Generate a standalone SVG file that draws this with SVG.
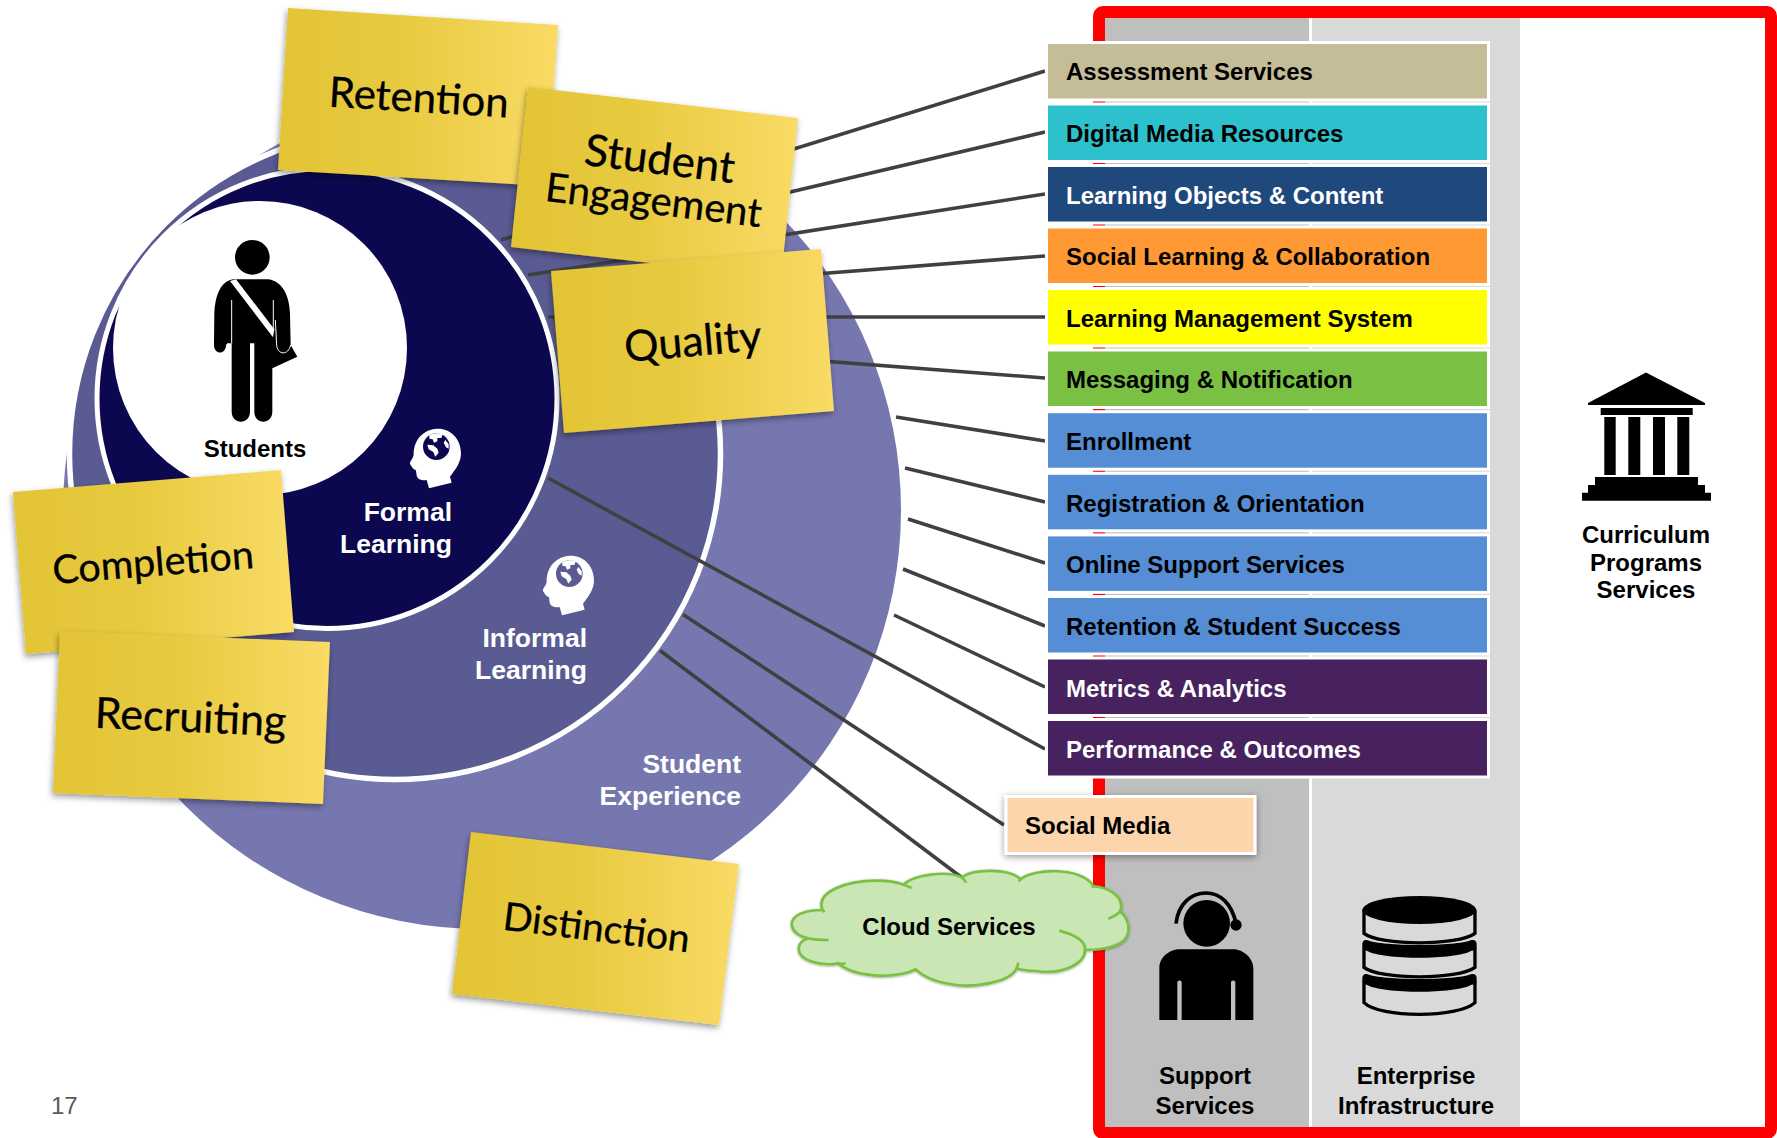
<svg xmlns="http://www.w3.org/2000/svg" width="1777" height="1138" viewBox="0 0 1777 1138">
<style>
text{font-family:"Liberation Sans",Arial,sans-serif;font-weight:bold;font-size:24px;fill:#000}
.w{fill:#fff}
.big{font-size:26.5px;fill:#fff;text-anchor:end}
.mid{text-anchor:middle}
.note{fill:url(#noteGrad);filter:url(#shadow)}
.nt{font-family:"Lato",sans-serif;font-weight:400;font-size:42px;text-anchor:middle;stroke:#000;stroke-width:.3}
.bar{stroke:#fff;stroke-width:6;paint-order:stroke}
.conn line{stroke:#404040;stroke-width:3.6}
</style>
<defs>
<linearGradient id="noteGrad" x1="0" y1="0" x2="1" y2="0">
<stop offset="0" stop-color="#e3c435"/><stop offset=".45" stop-color="#e8ca40"/><stop offset="1" stop-color="#f9db66"/>
</linearGradient>
<filter id="shadow" x="-10%" y="-10%" width="125%" height="125%">
<feDropShadow dx="-1" dy="3" stdDeviation="3" flood-color="#000" flood-opacity=".4"/>
</filter>
<filter id="shadow2" x="-10%" y="-15%" width="120%" height="135%">
<feDropShadow dx="0" dy="2" stdDeviation="3.5" flood-color="#000" flood-opacity=".4"/>
</filter>
<g id="thinker">
<path fill="#fff" d="M110,26 C150,24 183,55 183,100 C183,125 170,145 150,170 L155,188 L87,205 L80,180 C70,182 58,182 52,172 C48,165 50,155 47,150 C40,148 36,142 30,132 C28,125 38,118 41,105 C40,60 70,28 110,26 Z"/>
<circle cx="109" cy="80" r="40" fill="currentColor"/>
<path fill="#fff" d="M88,46 C98,38 120,38 128,44 L124,54 L112,54 L112,64 L102,68 L98,58 L88,56 Z M82,74 L100,76 L112,86 L116,98 L106,110 L100,96 L86,88 Z M136,60 L146,72 L146,86 L138,82 L131,68 Z"/>
</g>
</defs>
<rect width="1777" height="1138" fill="#fff"/>

<g id="panel">
<rect id="col-support" x="1105" y="17" width="204" height="1116" fill="#bfbfbf"/>
<rect id="col-enterprise" x="1312" y="17" width="208" height="1116" fill="#d9d9d9"/>
<rect id="frame" x="1099" y="12" width="672" height="1121" rx="4" fill="none" stroke="#f00" stroke-width="12"/>
</g>

<g id="rings">
<circle id="ring-experience" cx="482" cy="510" r="419" fill="#7777b0"/>
<circle id="ring-informal" cx="395" cy="454" r="325.5" fill="#5b5b94" stroke="#fff" stroke-width="5.5"/>
<circle id="ring-formal" cx="327" cy="398.5" r="230" fill="#0b084f" stroke="#fff" stroke-width="5"/>
<circle id="ring-students" cx="260" cy="348" r="147" fill="#fff"/>
</g>

<g id="connectors" class="conn">
<line x1="501" y1="240" x2="1045" y2="71"/>
<line x1="620" y1="232" x2="1045" y2="132"/>
<line x1="528" y1="275" x2="1045" y2="194"/>
<line x1="600" y1="291" x2="1045" y2="256"/>
<line x1="548" y1="317" x2="1045" y2="317"/>
<line x1="600" y1="344" x2="1045" y2="378"/>
<line x1="896" y1="417" x2="1045" y2="441"/>
<line x1="905" y1="468" x2="1045" y2="502"/>
<line x1="908" y1="519" x2="1045" y2="563"/>
<line x1="903" y1="569" x2="1045" y2="626"/>
<line x1="894" y1="615" x2="1045" y2="687"/>
<line x1="548" y1="478" x2="1045" y2="749"/>
<line x1="683" y1="614.5" x2="1004" y2="825"/>
<line x1="660" y1="650.5" x2="961" y2="877"/>
</g>

<g id="students">
<g transform="translate(200,230) scale(.3333)">
<circle cx="157" cy="82" r="52"/>
<path d="M90,150 C60,160 45,200 43,250 L42,345 C42,375 78,375 78,345 L82,340 H95 V545 C95,585 150,585 150,545 V340 H163 V545 C163,585 217,585 217,545 V415 L292,380 L272,345 L270,250 C268,200 250,155 205,148 H100 Z"/>
<path fill="#fff" d="M90,153 L108,148 L223,298 L219,322 Z"/>
<path fill="none" stroke="#fff" stroke-width="3" d="M95,210 V340 M220,210 V300 M226,270 L230,345 C232,375 265,378 272,345"/>
</g>
<text class="mid" x="255" y="457">Students</text>
</g>

<g id="formal" color="#0b084f">
<use href="#thinker" transform="translate(400,420) scale(.3333)"/>
<text class="big" x="452" y="521">Formal</text>
<text class="big" x="452" y="553">Learning</text>
</g>

<g id="informal" color="#5b5b94">
<use href="#thinker" transform="translate(533,547) scale(.3333)"/>
<text class="big" x="587" y="647">Informal</text>
<text class="big" x="587" y="679">Learning</text>
</g>

<g id="experience">
<text class="big" x="741" y="773">Student</text>
<text class="big" x="741" y="805">Experience</text>
</g>

<g id="bar-assessment"><rect class="bar" x="1048" y="44" width="439" height="54.5" fill="#c4bd97"/><text x="1066" y="80">Assessment Services</text></g>
<g id="bar-digital"><rect class="bar" x="1048" y="105.5" width="439" height="54.5" fill="#2dc0cd"/><text x="1066" y="142">Digital Media Resources</text></g>
<g id="bar-objects"><rect class="bar" x="1048" y="167" width="439" height="54.5" fill="#1f497d"/><text class="w" x="1066" y="204">Learning Objects &amp; Content</text></g>
<g id="bar-social"><rect class="bar" x="1048" y="228.5" width="439" height="54.5" fill="#ff9933"/><text x="1066" y="265">Social Learning &amp; Collaboration</text></g>
<g id="bar-lms"><rect class="bar" x="1048" y="290" width="439" height="54.5" fill="#ffff00"/><text x="1066" y="327">Learning Management System</text></g>
<g id="bar-messaging"><rect class="bar" x="1048" y="351.5" width="439" height="54.5" fill="#7ac143"/><text x="1066" y="388">Messaging &amp; Notification</text></g>
<g id="bar-enrollment"><rect class="bar" x="1048" y="413.2" width="439" height="54.5" fill="#558ed5"/><text x="1066" y="450">Enrollment</text></g>
<g id="bar-registration"><rect class="bar" x="1048" y="474.8" width="439" height="54.5" fill="#558ed5"/><text x="1066" y="512">Registration &amp; Orientation</text></g>
<g id="bar-support"><rect class="bar" x="1048" y="536.4" width="439" height="54.5" fill="#558ed5"/><text x="1066" y="573">Online Support Services</text></g>
<g id="bar-retention"><rect class="bar" x="1048" y="598" width="439" height="54.5" fill="#558ed5"/><text x="1066" y="635">Retention &amp; Student Success</text></g>
<g id="bar-metrics"><rect class="bar" x="1048" y="659.5" width="439" height="54.5" fill="#47225f"/><text class="w" x="1066" y="697">Metrics &amp; Analytics</text></g>
<g id="bar-performance"><rect class="bar" x="1048" y="721" width="439" height="54.5" fill="#47225f"/><text class="w" x="1066" y="758">Performance &amp; Outcomes</text></g>

<g id="social-media">
<rect x="1006" y="796.5" width="249" height="57" fill="#fdd5ac" stroke="#fff" stroke-width="3" filter="url(#shadow2)"/>
<text x="1025" y="834">Social Media</text>
</g>

<g id="cloud-services">
<g transform="translate(780,860) scale(.3333)">
<path filter="url(#shadow2)" fill="#c9e6b4" stroke="#7ac143" stroke-width="8" d="M128,150 C105,95 200,62 290,62 C320,62 350,66 370,74 C400,45 500,30 545,52 C580,25 690,25 722,58 C760,25 905,20 940,78 C1000,85 1035,120 1020,155 C1050,175 1065,240 1000,258 C975,268 945,270 915,270 C915,310 850,345 770,333 C750,333 725,330 710,325 C690,370 570,385 510,372 C470,365 430,350 408,328 C340,360 220,350 175,310 C120,320 50,300 57,262 C58,250 70,240 85,235 C30,225 15,175 70,158 C90,150 110,150 128,150 Z"/>
<path fill="none" stroke="#7ac143" stroke-width="8" d="M128,150 L133,157 M370,74 C380,77 388,80 395,84 M545,52 C552,58 556,62 558,68 M722,58 L716,64 M940,78 L938,84 M1020,155 C1012,165 1000,170 985,176 M915,270 C918,245 885,225 838,212 M710,325 C712,320 714,315 715,308 M175,310 C180,312 190,312 197,310 M85,235 C100,238 125,240 146,240"/>
</g>
<text class="mid" x="949" y="935">Cloud Services</text>
</g>

<g id="support-services">
<g transform="translate(1150,880) scale(.3333)">
<circle cx="170" cy="130" r="70"/>
<path fill="none" stroke="#000" stroke-width="11" d="M78,131 C85,70 125,39 168,39 C210,39 245,70 258,130"/>
<circle cx="258" cy="135" r="17"/>
<path d="M28,420 V265 C28,230 60,208 90,208 H250 C280,208 310,235 310,265 V420 H256 V305 Q250,298 243,305 V420 H95 V305 Q89,298 82,305 V420 Z"/>
</g>
<text class="mid" x="1205" y="1084">Support</text>
<text class="mid" x="1205" y="1114">Services</text>
</g>

<g id="enterprise-infrastructure">
<g transform="translate(1150,880) scale(.3333)">
<ellipse cx="808" cy="90" rx="171" ry="42"/>
<path fill="none" stroke="#000" stroke-width="10" d="M642,90 V160 C690,198 925,198 975,160 V90 M642,205 V262 C690,300 925,300 975,262 V205 M642,305 V368 C690,415 925,415 975,368 V305"/>
<path d="M637,190 Q640,178 650,180 C700,200 915,200 965,180 Q978,178 980,190 V205 Q978,212 965,212 C915,240 700,240 650,212 Q640,212 637,205 Z"/>
<path d="M637,292 Q640,280 650,282 C700,302 915,302 965,282 Q978,280 980,292 V307 Q978,314 965,314 C915,342 700,342 650,314 Q640,314 637,307 Z"/>
</g>
<text class="mid" x="1416" y="1084">Enterprise</text>
<text class="mid" x="1416" y="1114">Infrastructure</text>
</g>

<g id="curriculum-programs-services">
<path d="M1646,372.5 L1705,403 V405 H1588 V403 Z M1600.7,408 H1692.7 V415 H1600.7 Z M1604.3,417 H1615.7 V475 H1604.3 Z M1628.3,417 H1640.3 V475 H1628.3 Z M1653,417 H1665 V475 H1653 Z M1677.3,417 H1689.3 V475 H1677.3 Z M1595,477 H1698 V485 H1705 V492.7 H1711 V500.7 H1582 V492.7 H1588 V485 H1595 Z"/>
<text class="mid" x="1646" y="543">Curriculum</text>
<text class="mid" x="1646" y="571">Programs</text>
<text class="mid" x="1646" y="598">Services</text>
</g>

<g id="note-retention"><polygon class="note" points="288,8 558,25 547,186 278,170"/><text class="nt" transform="translate(418,112) rotate(3.5)">Retention</text></g>
<g id="note-engagement"><polygon class="note" points="528,87 798,118 781,278 511,247"/><text class="nt" transform="translate(658,174) rotate(7)" style="font-size:44px">Student</text><text class="nt" transform="translate(652,214) rotate(7)" style="font-size:40px">Engagement</text></g>
<g id="note-quality"><polygon class="note" points="551,271 821,249 834,411 564,433"/><text class="nt" transform="translate(694,356) rotate(-5)" style="font-size:43px">Quality</text></g>
<g id="note-completion"><polygon class="note" points="13,492 281,470 294,632 26,654"/><text class="nt" transform="translate(154,576) rotate(-4.5)" style="font-size:39.5px">Completion</text></g>
<g id="note-recruiting"><polygon class="note" points="60,631 330,642 323,804 53,793"/><text class="nt" transform="translate(190,732) rotate(2.5)" style="font-size:43px">Recruiting</text></g>
<g id="note-distinction"><polygon class="note" points="471,832 739,864 719,1025 452,994"/><text class="nt" transform="translate(595,941) rotate(7)" style="font-size:39px">Distinction</text></g>

<text id="page-number" x="51" y="1114" style="font-weight:normal;fill:#595959">17</text>
</svg>
